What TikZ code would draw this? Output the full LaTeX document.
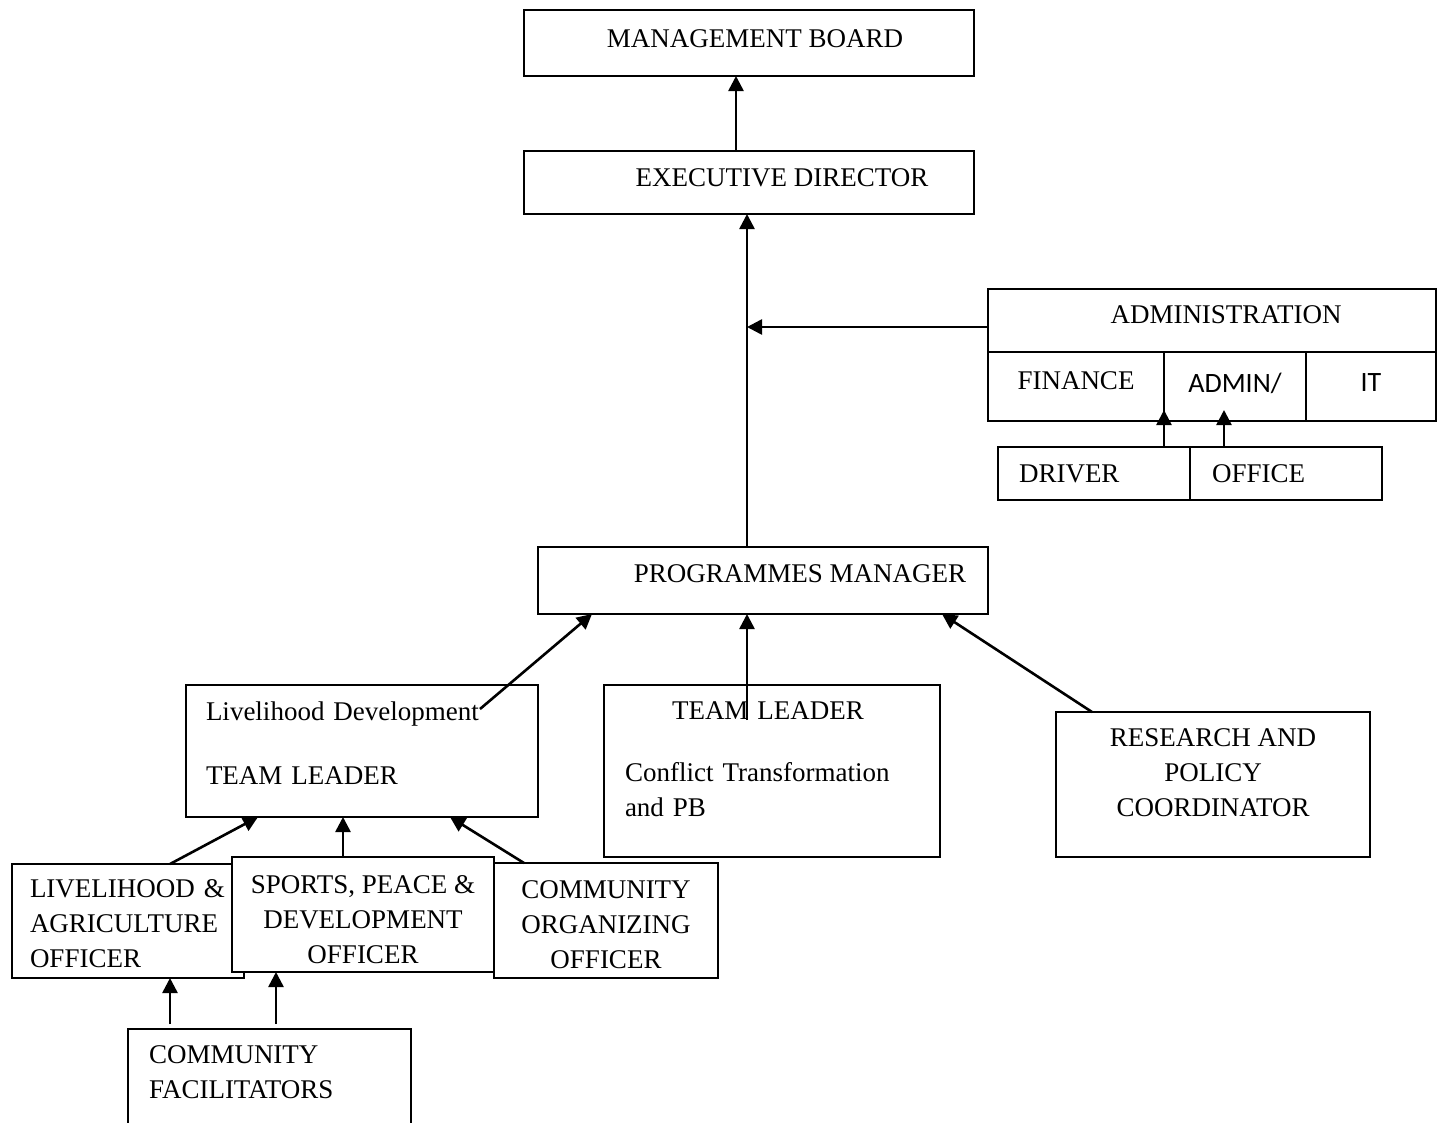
\documentclass[tikz,border=0pt]{standalone}
\usepackage{fontspec}
\setmainfont{Liberation Serif}
\newfontfamily\carlito{Carlito}
\usetikzlibrary{arrows.meta}

\begin{document}
\begin{tikzpicture}[
	x=1pt, y=-1pt,
	font=\fontsize{27}{35}\selectfont,
	box/.style={
		draw,
		line width=1.6pt,
		inner sep=0pt,
		outer sep=0pt,
		align=center
	},
	arrow/.style={
		-{Triangle[length=15pt,width=15pt]},
		line width=2.6pt
	}
	]
	\useasboundingbox (0,0) rectangle (1440,1122);
	\clip (0,0) rectangle (1440,1122);
	
	% Top of the chart
	\node[box, minimum width=450pt, minimum height=66pt, text depth=9pt] (board) at (749,43)
	{\hspace*{12pt}MANAGEMENT BOARD};
	
	\node[box, minimum width=450pt, minimum height=63pt, text depth=9pt] (ed) at (749,182.5)
	{\hspace*{66pt}EXECUTIVE DIRECTOR};
	
	% Administration block
	\node[box, minimum width=448pt, minimum height=63pt, text depth=12pt] (administration) at (1212,320.5)
	{\hspace*{28pt}ADMINISTRATION};
	
	\node[box, minimum width=176pt, minimum height=69pt, text depth=12pt] (finance) at (1076,386.5)
	{FINANCE};
	
	\node[box, minimum width=142pt, minimum height=69pt, text depth=8pt] (adminoffice) at (1235,386.5)
	{\carlito\fontsize{28}{35}\selectfont ADMIN/};
	
	\node[box, minimum width=130pt, minimum height=69pt, text depth=8pt] (it) at (1371,386.5)
	{\carlito\fontsize{28}{35}\selectfont IT};
	
	\node[box, minimum width=192pt, minimum height=53pt, text width=150pt, align=left] (driver) at (1094,473.5)
	{DRIVER};
	
	\node[box, minimum width=192pt, minimum height=53pt, text width=148pt, align=left] (office) at (1286,473.5)
	{OFFICE};
	
	% Programmes
	\node[box, minimum width=450pt, minimum height=67pt, text depth=14pt] (pm) at (763,580.5)
	{\hspace*{74pt}PROGRAMMES MANAGER};
	
	\node[box, minimum width=352pt, minimum height=132pt, text width=312pt, align=left, text depth=80pt] (ldtl) at (362,751)
	{Livelihood Development\\[29pt]TEAM LEADER};
	
	\node[box, minimum width=336pt, minimum height=172pt, text width=294pt, align=left, text depth=120pt] (cttl) at (772,771)
	{\hspace*{47pt}TEAM LEADER\\[27pt]Conflict Transformation\\and PB};
	
	\node[box, minimum width=314pt, minimum height=145pt, text depth=24pt] (rpc) at (1213,784.5)
	{RESEARCH AND\\POLICY\\COORDINATOR};
	
	% Officers
	\node[box, minimum width=232pt, minimum height=114pt, text width=196pt, align=left, text depth=64pt] (lao) at (128,921)
	{LIVELIHOOD \&\\AGRICULTURE\\OFFICER};
	
	\node[box, fill=white, minimum width=262pt, minimum height=115pt, text height=98pt] (spdo) at (363,914.5)
	{SPORTS, PEACE \&\\DEVELOPMENT\\OFFICER};
	
	\node[box, minimum width=224pt, minimum height=115pt, text height=96pt] (coo) at (606,920.5)
	{COMMUNITY\\ORGANIZING\\OFFICER};
	
	\node[box, minimum width=283pt, minimum height=111pt, text width=241pt, align=left, text depth=60pt] (cf) at (269.5,1084.5)
	{COMMUNITY\\FACILITATORS};
	
	% Arrows up the chart
	\coordinate (trunk) at (747,327);
	\draw[arrow] ([xshift=-13pt]ed.north) -- ([xshift=-13pt]board.south);
	\draw[arrow] (pm.north -| trunk) -- (ed.south -| trunk);
	\draw[arrow] (administration.west |- trunk) -- (trunk);
	
	\draw[arrow] (driver.north -| finance.east) -- ([yshift=11pt]finance.south east);
	\draw[arrow] ([xshift=-62pt]office.north) -- ([shift={(-11,-11)}]adminoffice.south);
	
	\draw[arrow] ([shift={(118,-42)}]ldtl.center) -- ([xshift=-171pt]pm.south);
	\draw[arrow] ([shift={(-25,35)}]cttl.north) -- ([xshift=-16pt]pm.south);
	\draw[arrow] ([xshift=36pt]rpc.north west) -- ([xshift=-46pt]pm.south east);
	
	\draw[arrow] ([xshift=42pt]lao.north) -- ([xshift=-104pt]ldtl.south);
	\draw[arrow] ([xshift=-20pt]spdo.north) -- ([xshift=-19pt]ldtl.south);
	\draw[arrow] ([xshift=30pt]coo.north west) -- ([xshift=88pt]ldtl.south);
	
	\draw[arrow] ([shift={(42,-5)}]cf.north west) -- ([xshift=158pt]lao.south west);
	\draw[arrow] ([shift={(148,-5)}]cf.north west) -- ([xshift=44pt]spdo.south west);
	
\end{tikzpicture}
\end{document}
